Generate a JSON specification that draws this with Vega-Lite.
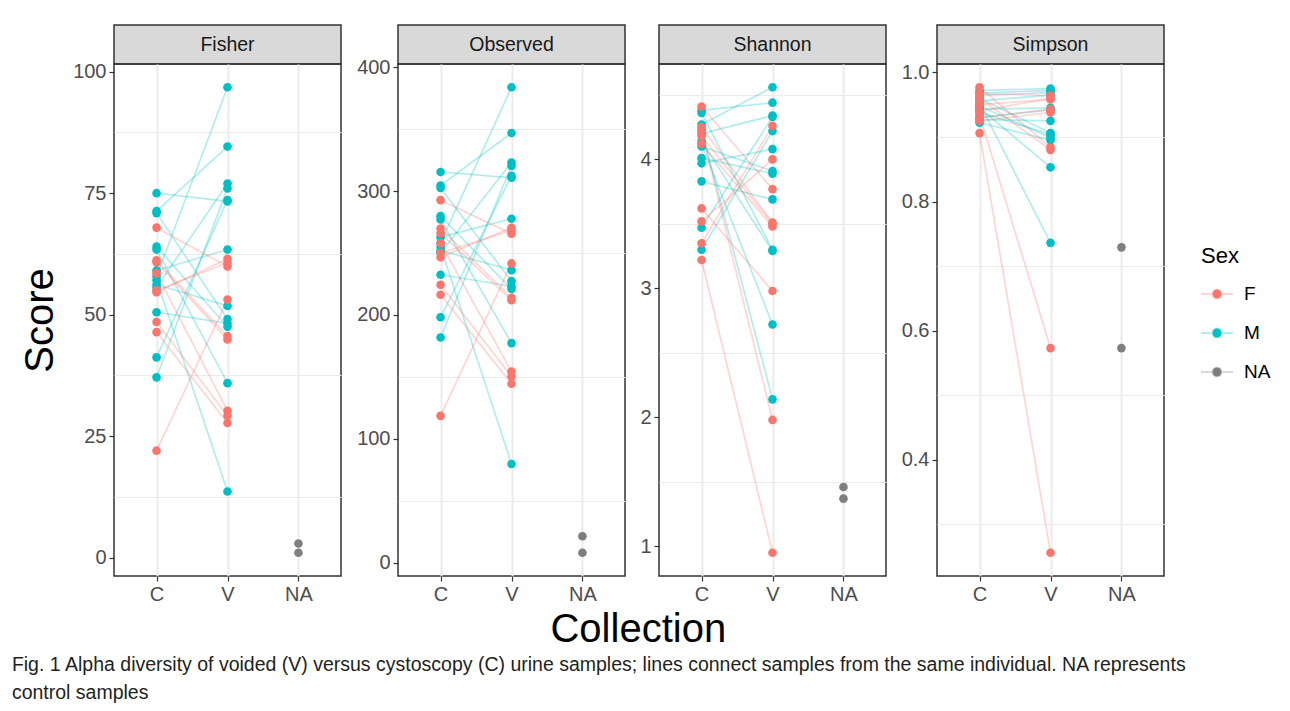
{
  "$schema": "https://vega.github.io/schema/vega-lite/v6.json",
  "background": "white",
  "padding": {"left": 11, "top": 24, "right": 5, "bottom": 8},
  "config": {
    "font": "Liberation Sans",
    "view": {"stroke": "#333333", "strokeWidth": 1.5},
    "axis": {
      "labelFont": "Liberation Sans", "labelFontSize": 20, "labelColor": "#4D4D4D",
      "tickColor": "#333333", "tickSize": 5, "tickWidth": 1.2, "labelPadding": 3,
      "domain": false, "gridColor": "#EBEBEB", "gridWidth": 2
    },
    "title": {"font": "Liberation Sans", "color": "#000000"}
  },
  "datasets": {
    "d": [
      {"metric":"Fisher","id":"M1","collection":"C","sex":"M","value":75.0},{"metric":"Fisher","id":"M1","collection":"V","sex":"M","value":73.3},
      {"metric":"Fisher","id":"M2","collection":"C","sex":"M","value":71.3},{"metric":"Fisher","id":"M2","collection":"V","sex":"M","value":84.6},
      {"metric":"Fisher","id":"M3","collection":"C","sex":"M","value":70.9},{"metric":"Fisher","id":"M3","collection":"V","sex":"M","value":49.1},
      {"metric":"Fisher","id":"M4","collection":"C","sex":"M","value":64.0},{"metric":"Fisher","id":"M4","collection":"V","sex":"M","value":47.5},
      {"metric":"Fisher","id":"M5","collection":"C","sex":"M","value":63.4},{"metric":"Fisher","id":"M5","collection":"V","sex":"M","value":35.9},
      {"metric":"Fisher","id":"M6","collection":"C","sex":"M","value":59.1},{"metric":"Fisher","id":"M6","collection":"V","sex":"M","value":63.4},
      {"metric":"Fisher","id":"M7","collection":"C","sex":"M","value":57.9},{"metric":"Fisher","id":"M7","collection":"V","sex":"M","value":96.8},
      {"metric":"Fisher","id":"M8","collection":"C","sex":"M","value":57.1},{"metric":"Fisher","id":"M8","collection":"V","sex":"M","value":13.6},
      {"metric":"Fisher","id":"M9","collection":"C","sex":"M","value":56.2},{"metric":"Fisher","id":"M9","collection":"V","sex":"M","value":51.8},
      {"metric":"Fisher","id":"M10","collection":"C","sex":"M","value":55.6},{"metric":"Fisher","id":"M10","collection":"V","sex":"M","value":77.0},
      {"metric":"Fisher","id":"M11","collection":"C","sex":"M","value":50.5},{"metric":"Fisher","id":"M11","collection":"V","sex":"M","value":48.2},
      {"metric":"Fisher","id":"M12","collection":"C","sex":"M","value":41.2},{"metric":"Fisher","id":"M12","collection":"V","sex":"M","value":73.6},
      {"metric":"Fisher","id":"M13","collection":"C","sex":"M","value":37.1},{"metric":"Fisher","id":"M13","collection":"V","sex":"M","value":76.0},
      {"metric":"Fisher","id":"F1","collection":"C","sex":"F","value":67.9},{"metric":"Fisher","id":"F1","collection":"V","sex":"F","value":59.9},
      {"metric":"Fisher","id":"F2","collection":"C","sex":"F","value":61.2},{"metric":"Fisher","id":"F2","collection":"V","sex":"F","value":45.6},
      {"metric":"Fisher","id":"F3","collection":"C","sex":"F","value":60.8},{"metric":"Fisher","id":"F3","collection":"V","sex":"F","value":44.9},
      {"metric":"Fisher","id":"F4","collection":"C","sex":"F","value":58.5},{"metric":"Fisher","id":"F4","collection":"V","sex":"F","value":30.2},
      {"metric":"Fisher","id":"F5","collection":"C","sex":"F","value":55.0},{"metric":"Fisher","id":"F5","collection":"V","sex":"F","value":60.7},
      {"metric":"Fisher","id":"F6","collection":"C","sex":"F","value":54.6},{"metric":"Fisher","id":"F6","collection":"V","sex":"F","value":61.5},
      {"metric":"Fisher","id":"F7","collection":"C","sex":"F","value":48.5},{"metric":"Fisher","id":"F7","collection":"V","sex":"F","value":29.2},
      {"metric":"Fisher","id":"F8","collection":"C","sex":"F","value":46.4},{"metric":"Fisher","id":"F8","collection":"V","sex":"F","value":27.7},
      {"metric":"Fisher","id":"F9","collection":"C","sex":"F","value":22.0},{"metric":"Fisher","id":"F9","collection":"V","sex":"F","value":53.1},
      {"metric":"Fisher","id":"ctrl1","collection":"NA","sex":"NA","value":2.9},
      {"metric":"Fisher","id":"ctrl2","collection":"NA","sex":"NA","value":1.0},

      {"metric":"Observed","id":"M1","collection":"C","sex":"M","value":315.4},{"metric":"Observed","id":"M1","collection":"V","sex":"M","value":310.8},
      {"metric":"Observed","id":"M2","collection":"C","sex":"M","value":304.5},{"metric":"Observed","id":"M2","collection":"V","sex":"M","value":346.9},
      {"metric":"Observed","id":"M3","collection":"C","sex":"M","value":302.5},{"metric":"Observed","id":"M3","collection":"V","sex":"M","value":227.3},
      {"metric":"Observed","id":"M4","collection":"C","sex":"M","value":279.8},{"metric":"Observed","id":"M4","collection":"V","sex":"M","value":221.0},
      {"metric":"Observed","id":"M5","collection":"C","sex":"M","value":277.1},{"metric":"Observed","id":"M5","collection":"V","sex":"M","value":177.3},
      {"metric":"Observed","id":"M6","collection":"C","sex":"M","value":262.8},{"metric":"Observed","id":"M6","collection":"V","sex":"M","value":277.7},
      {"metric":"Observed","id":"M7","collection":"C","sex":"M","value":258.2},{"metric":"Observed","id":"M7","collection":"V","sex":"M","value":383.8},
      {"metric":"Observed","id":"M8","collection":"C","sex":"M","value":254.9},{"metric":"Observed","id":"M8","collection":"V","sex":"M","value":79.7},
      {"metric":"Observed","id":"M9","collection":"C","sex":"M","value":252.0},{"metric":"Observed","id":"M9","collection":"V","sex":"M","value":236.2},
      {"metric":"Observed","id":"M10","collection":"C","sex":"M","value":250.0},{"metric":"Observed","id":"M10","collection":"V","sex":"M","value":323.1},
      {"metric":"Observed","id":"M11","collection":"C","sex":"M","value":232.5},{"metric":"Observed","id":"M11","collection":"V","sex":"M","value":223.2},
      {"metric":"Observed","id":"M12","collection":"C","sex":"M","value":198.2},{"metric":"Observed","id":"M12","collection":"V","sex":"M","value":312.3},
      {"metric":"Observed","id":"M13","collection":"C","sex":"M","value":181.8},{"metric":"Observed","id":"M13","collection":"V","sex":"M","value":320.4},
      {"metric":"Observed","id":"F1","collection":"C","sex":"F","value":292.7},{"metric":"Observed","id":"F1","collection":"V","sex":"F","value":265.6},
      {"metric":"Observed","id":"F2","collection":"C","sex":"F","value":269.8},{"metric":"Observed","id":"F2","collection":"V","sex":"F","value":213.8},
      {"metric":"Observed","id":"F3","collection":"C","sex":"F","value":266.0},{"metric":"Observed","id":"F3","collection":"V","sex":"F","value":211.9},
      {"metric":"Observed","id":"F4","collection":"C","sex":"F","value":258.0},{"metric":"Observed","id":"F4","collection":"V","sex":"F","value":154.4},
      {"metric":"Observed","id":"F5","collection":"C","sex":"F","value":250.0},{"metric":"Observed","id":"F5","collection":"V","sex":"F","value":268.3},
      {"metric":"Observed","id":"F6","collection":"C","sex":"F","value":246.6},{"metric":"Observed","id":"F6","collection":"V","sex":"F","value":270.4},
      {"metric":"Observed","id":"F7","collection":"C","sex":"F","value":224.4},{"metric":"Observed","id":"F7","collection":"V","sex":"F","value":150.4},
      {"metric":"Observed","id":"F8","collection":"C","sex":"F","value":216.3},{"metric":"Observed","id":"F8","collection":"V","sex":"F","value":144.5},
      {"metric":"Observed","id":"F9","collection":"C","sex":"F","value":118.6},{"metric":"Observed","id":"F9","collection":"V","sex":"F","value":241.6},
      {"metric":"Observed","id":"ctrl1","collection":"NA","sex":"NA","value":21.4},
      {"metric":"Observed","id":"ctrl2","collection":"NA","sex":"NA","value":8.1},

      {"metric":"Shannon","id":"M1","collection":"C","sex":"M","value":4.38},{"metric":"Shannon","id":"M1","collection":"V","sex":"M","value":4.44},
      {"metric":"Shannon","id":"M2","collection":"C","sex":"M","value":4.36},{"metric":"Shannon","id":"M2","collection":"V","sex":"M","value":3.30},
      {"metric":"Shannon","id":"M3","collection":"C","sex":"M","value":4.27},{"metric":"Shannon","id":"M3","collection":"V","sex":"M","value":4.56},
      {"metric":"Shannon","id":"M4","collection":"C","sex":"M","value":4.23},{"metric":"Shannon","id":"M4","collection":"V","sex":"M","value":2.14},
      {"metric":"Shannon","id":"M5","collection":"C","sex":"M","value":4.20},{"metric":"Shannon","id":"M5","collection":"V","sex":"M","value":4.34},
      {"metric":"Shannon","id":"M6","collection":"C","sex":"M","value":4.14},{"metric":"Shannon","id":"M6","collection":"V","sex":"M","value":3.29},
      {"metric":"Shannon","id":"M7","collection":"C","sex":"M","value":4.12},{"metric":"Shannon","id":"M7","collection":"V","sex":"M","value":2.72},
      {"metric":"Shannon","id":"M8","collection":"C","sex":"M","value":4.10},{"metric":"Shannon","id":"M8","collection":"V","sex":"M","value":3.91},
      {"metric":"Shannon","id":"M9","collection":"C","sex":"M","value":4.01},{"metric":"Shannon","id":"M9","collection":"V","sex":"M","value":3.89},
      {"metric":"Shannon","id":"M10","collection":"C","sex":"M","value":3.97},{"metric":"Shannon","id":"M10","collection":"V","sex":"M","value":4.08},
      {"metric":"Shannon","id":"M11","collection":"C","sex":"M","value":3.83},{"metric":"Shannon","id":"M11","collection":"V","sex":"M","value":3.69},
      {"metric":"Shannon","id":"M12","collection":"C","sex":"M","value":3.47},{"metric":"Shannon","id":"M12","collection":"V","sex":"M","value":4.33},
      {"metric":"Shannon","id":"M13","collection":"C","sex":"M","value":3.30},{"metric":"Shannon","id":"M13","collection":"V","sex":"M","value":4.22},
      {"metric":"Shannon","id":"F1","collection":"C","sex":"F","value":4.41},{"metric":"Shannon","id":"F1","collection":"V","sex":"F","value":3.77},
      {"metric":"Shannon","id":"F2","collection":"C","sex":"F","value":4.25},{"metric":"Shannon","id":"F2","collection":"V","sex":"F","value":3.51},
      {"metric":"Shannon","id":"F3","collection":"C","sex":"F","value":4.22},{"metric":"Shannon","id":"F3","collection":"V","sex":"F","value":1.98},
      {"metric":"Shannon","id":"F4","collection":"C","sex":"F","value":4.18},{"metric":"Shannon","id":"F4","collection":"V","sex":"F","value":3.50},
      {"metric":"Shannon","id":"F5","collection":"C","sex":"F","value":4.12},{"metric":"Shannon","id":"F5","collection":"V","sex":"F","value":3.48},
      {"metric":"Shannon","id":"F6","collection":"C","sex":"F","value":3.62},{"metric":"Shannon","id":"F6","collection":"V","sex":"F","value":2.98},
      {"metric":"Shannon","id":"F7","collection":"C","sex":"F","value":3.52},{"metric":"Shannon","id":"F7","collection":"V","sex":"F","value":4.00},
      {"metric":"Shannon","id":"F8","collection":"C","sex":"F","value":3.35},{"metric":"Shannon","id":"F8","collection":"V","sex":"F","value":4.26},
      {"metric":"Shannon","id":"F9","collection":"C","sex":"F","value":3.22},{"metric":"Shannon","id":"F9","collection":"V","sex":"F","value":0.95},
      {"metric":"Shannon","id":"ctrl1","collection":"NA","sex":"NA","value":1.46},
      {"metric":"Shannon","id":"ctrl2","collection":"NA","sex":"NA","value":1.37},

      {"metric":"Simpson","id":"M1","collection":"C","sex":"M","value":0.972},{"metric":"Simpson","id":"M1","collection":"V","sex":"M","value":0.975},
      {"metric":"Simpson","id":"M2","collection":"C","sex":"M","value":0.968},{"metric":"Simpson","id":"M2","collection":"V","sex":"M","value":0.972},
      {"metric":"Simpson","id":"M3","collection":"C","sex":"M","value":0.964},{"metric":"Simpson","id":"M3","collection":"V","sex":"M","value":0.969},
      {"metric":"Simpson","id":"M4","collection":"C","sex":"M","value":0.960},{"metric":"Simpson","id":"M4","collection":"V","sex":"M","value":0.906},
      {"metric":"Simpson","id":"M5","collection":"C","sex":"M","value":0.956},{"metric":"Simpson","id":"M5","collection":"V","sex":"M","value":0.965},
      {"metric":"Simpson","id":"M6","collection":"C","sex":"M","value":0.952},{"metric":"Simpson","id":"M6","collection":"V","sex":"M","value":0.736},
      {"metric":"Simpson","id":"M7","collection":"C","sex":"M","value":0.948},{"metric":"Simpson","id":"M7","collection":"V","sex":"M","value":0.899},
      {"metric":"Simpson","id":"M8","collection":"C","sex":"M","value":0.945},{"metric":"Simpson","id":"M8","collection":"V","sex":"M","value":0.853},
      {"metric":"Simpson","id":"M9","collection":"C","sex":"M","value":0.943},{"metric":"Simpson","id":"M9","collection":"V","sex":"M","value":0.945},
      {"metric":"Simpson","id":"M10","collection":"C","sex":"M","value":0.938},{"metric":"Simpson","id":"M10","collection":"V","sex":"M","value":0.904},
      {"metric":"Simpson","id":"M11","collection":"C","sex":"M","value":0.930},{"metric":"Simpson","id":"M11","collection":"V","sex":"M","value":0.942},
      {"metric":"Simpson","id":"M12","collection":"C","sex":"M","value":0.927},{"metric":"Simpson","id":"M12","collection":"V","sex":"M","value":0.925},
      {"metric":"Simpson","id":"M13","collection":"C","sex":"M","value":0.922},{"metric":"Simpson","id":"M13","collection":"V","sex":"M","value":0.895},
      {"metric":"Simpson","id":"F1","collection":"C","sex":"F","value":0.977},{"metric":"Simpson","id":"F1","collection":"V","sex":"F","value":0.884},
      {"metric":"Simpson","id":"F2","collection":"C","sex":"F","value":0.967},{"metric":"Simpson","id":"F2","collection":"V","sex":"F","value":0.964},
      {"metric":"Simpson","id":"F3","collection":"C","sex":"F","value":0.960},{"metric":"Simpson","id":"F3","collection":"V","sex":"F","value":0.880},
      {"metric":"Simpson","id":"F4","collection":"C","sex":"F","value":0.950},{"metric":"Simpson","id":"F4","collection":"V","sex":"F","value":0.958},
      {"metric":"Simpson","id":"F5","collection":"C","sex":"F","value":0.940},{"metric":"Simpson","id":"F5","collection":"V","sex":"F","value":0.960},
      {"metric":"Simpson","id":"F6","collection":"C","sex":"F","value":0.934},{"metric":"Simpson","id":"F6","collection":"V","sex":"F","value":0.573},
      {"metric":"Simpson","id":"F7","collection":"C","sex":"F","value":0.930},{"metric":"Simpson","id":"F7","collection":"V","sex":"F","value":0.943},
      {"metric":"Simpson","id":"F8","collection":"C","sex":"F","value":0.925},{"metric":"Simpson","id":"F8","collection":"V","sex":"F","value":0.938},
      {"metric":"Simpson","id":"F9","collection":"C","sex":"F","value":0.906},{"metric":"Simpson","id":"F9","collection":"V","sex":"F","value":0.256},
      {"metric":"Simpson","id":"ctrl1","collection":"NA","sex":"NA","value":0.729},
      {"metric":"Simpson","id":"ctrl2","collection":"NA","sex":"NA","value":0.573}
    ]
  },
  "title": {
    "text": ["Fig. 1 Alpha diversity of voided (V) versus cystoscopy (C) urine samples; lines connect samples from the same individual. NA represents", "control samples"],
    "orient": "bottom", "anchor": "start", "frame": "bounds", "fontSize": 19.5, "fontWeight": "normal", "lineHeight": 28, "color": "#231F20", "offset": 6, "dx": -8
  },
  "resolve": {"scale": {"color": "shared"}, "legend": {"color": "shared"}},
  "vconcat": [
    {
      "title": {"text": "Collection", "orient": "bottom", "anchor": "middle", "fontSize": 40, "fontWeight": "normal", "offset": 5, "dx": 46, "color": "#000000"},
      "spacing": 13,
      "resolve": {"scale": {"color": "shared"}, "legend": {"color": "shared"}},
      "hconcat": [
        {
          "spacing": 0, "bounds": "flush",
          "vconcat": [
            {"width": 227, "height": 39, "data": {"values": [{"label": "Fisher"}]},
             "view": {"fill": "#D9D9D9", "stroke": "#333333", "strokeWidth": 1.5},
             "mark": {"type": "text", "fontSize": 19.5, "color": "#1A1A1A", "font": "Liberation Sans"},
             "encoding": {"text": {"field": "label"}}},
            {"width": 227, "height": 512, "data": {"name": "d"},
             "transform": [{"filter": "datum.metric === 'Fisher'"}],
             "resolve": {"axis": {"y": "independent"}},
             "layer": [
               {"mark": {"type": "line", "opacity": 0.3, "strokeWidth": 1.7},
                "encoding": {
                  "x": {"field": "collection", "type": "nominal", "scale": {"type": "point", "domain": ["C", "V", "NA"], "padding": 0.6}, "axis": {"title": null, "labelAngle": 0, "grid": true}},
                  "y": {"field": "value", "type": "quantitative", "scale": {"domain": [-3.79, 101.59], "nice": false, "zero": false}, "axis": {"orient": "left", "values": [12.5, 37.5, 62.5, 87.5], "labels": false, "ticks": false, "title": null, "gridWidth": 1, "gridColor": "#EBEBEB"}},
                  "color": {"field": "sex", "type": "nominal", "title": "Sex", "scale": {"domain": ["F", "M", "NA"], "range": ["#F8766D", "#00BFC4", "#7F7F7F"]},
                    "legend": {"orient": "none", "legendX": 1087, "legendY": 221, "titleFontSize": 22, "titleFontWeight": "normal", "titleColor": "#000000", "titlePadding": 10, "labelFontSize": 19, "labelColor": "#000000", "labelOffset": 11, "symbolSize": 900, "symbolOpacity": 1, "symbolStrokeWidth": 2, "rowPadding": 13, "symbolType": "M-1.07,0H1.07 M-0.3,0A0.3,0.3 0 1,0 0.3,0A0.3,0.3 0 1,0 -0.3,0Z", "encode": {"symbols": {"update": {"stroke": {"scale": "color", "field": "value"}, "strokeOpacity": {"value": 0.3}}}}}},
                  "detail": {"field": "id"}
                }},
               {"mark": {"type": "point", "filled": true, "size": 75, "opacity": 1},
                "encoding": {
                  "x": {"field": "collection", "type": "nominal", "scale": {"type": "point", "domain": ["C", "V", "NA"], "padding": 0.6}, "axis": {"title": null, "labelAngle": 0, "grid": true}},
                  "y": {"field": "value", "type": "quantitative", "scale": {"domain": [-3.79, 101.59], "nice": false, "zero": false}, "axis": {"orient": "left", "values": [0, 25, 50, 75, 100], "title": "Score", "titleFontSize": 40, "titleFontWeight": "normal", "titleColor": "#000000", "titlePadding": 12}},
                  "color": {"field": "sex", "type": "nominal", "title": "Sex", "scale": {"domain": ["F", "M", "NA"], "range": ["#F8766D", "#00BFC4", "#7F7F7F"]},
                    "legend": {"orient": "none", "legendX": 1087, "legendY": 221, "titleFontSize": 22, "titleFontWeight": "normal", "titleColor": "#000000", "titlePadding": 10, "labelFontSize": 19, "labelColor": "#000000", "labelOffset": 11, "symbolSize": 900, "symbolOpacity": 1, "symbolStrokeWidth": 2, "rowPadding": 13, "symbolType": "M-1.07,0H1.07 M-0.3,0A0.3,0.3 0 1,0 0.3,0A0.3,0.3 0 1,0 -0.3,0Z", "encode": {"symbols": {"update": {"stroke": {"scale": "color", "field": "value"}, "strokeOpacity": {"value": 0.3}}}}}}
                }}
             ]}
          ]
        },
        {
          "spacing": 0, "bounds": "flush",
          "vconcat": [
            {"width": 227, "height": 39, "data": {"values": [{"label": "Observed"}]},
             "view": {"fill": "#D9D9D9", "stroke": "#333333", "strokeWidth": 1.5},
             "mark": {"type": "text", "fontSize": 19.5, "color": "#1A1A1A", "font": "Liberation Sans"},
             "encoding": {"text": {"field": "label"}}},
            {"width": 227, "height": 512, "data": {"name": "d"},
             "transform": [{"filter": "datum.metric === 'Observed'"}],
             "resolve": {"axis": {"y": "independent"}},
             "layer": [
               {"mark": {"type": "line", "opacity": 0.3, "strokeWidth": 1.7},
                "encoding": {
                  "x": {"field": "collection", "type": "nominal", "scale": {"type": "point", "domain": ["C", "V", "NA"], "padding": 0.6}, "axis": {"title": null, "labelAngle": 0, "grid": true}},
                  "y": {"field": "value", "type": "quantitative", "scale": {"domain": [-10.7, 402.6], "nice": false, "zero": false}, "axis": {"orient": "left", "values": [50, 150, 250, 350], "labels": false, "ticks": false, "title": null, "gridWidth": 1, "gridColor": "#EBEBEB"}},
                  "color": {"field": "sex", "type": "nominal", "title": "Sex", "scale": {"domain": ["F", "M", "NA"], "range": ["#F8766D", "#00BFC4", "#7F7F7F"]},
                    "legend": {"orient": "none", "legendX": 1087, "legendY": 221, "titleFontSize": 22, "titleFontWeight": "normal", "titleColor": "#000000", "titlePadding": 10, "labelFontSize": 19, "labelColor": "#000000", "labelOffset": 11, "symbolSize": 900, "symbolOpacity": 1, "symbolStrokeWidth": 2, "rowPadding": 13, "symbolType": "M-1.07,0H1.07 M-0.3,0A0.3,0.3 0 1,0 0.3,0A0.3,0.3 0 1,0 -0.3,0Z", "encode": {"symbols": {"update": {"stroke": {"scale": "color", "field": "value"}, "strokeOpacity": {"value": 0.3}}}}}},
                  "detail": {"field": "id"}
                }},
               {"mark": {"type": "point", "filled": true, "size": 75, "opacity": 1},
                "encoding": {
                  "x": {"field": "collection", "type": "nominal", "scale": {"type": "point", "domain": ["C", "V", "NA"], "padding": 0.6}, "axis": {"title": null, "labelAngle": 0, "grid": true}},
                  "y": {"field": "value", "type": "quantitative", "scale": {"domain": [-10.7, 402.6], "nice": false, "zero": false}, "axis": {"orient": "left", "values": [0, 100, 200, 300, 400], "title": null}},
                  "color": {"field": "sex", "type": "nominal", "title": "Sex", "scale": {"domain": ["F", "M", "NA"], "range": ["#F8766D", "#00BFC4", "#7F7F7F"]},
                    "legend": {"orient": "none", "legendX": 1087, "legendY": 221, "titleFontSize": 22, "titleFontWeight": "normal", "titleColor": "#000000", "titlePadding": 10, "labelFontSize": 19, "labelColor": "#000000", "labelOffset": 11, "symbolSize": 900, "symbolOpacity": 1, "symbolStrokeWidth": 2, "rowPadding": 13, "symbolType": "M-1.07,0H1.07 M-0.3,0A0.3,0.3 0 1,0 0.3,0A0.3,0.3 0 1,0 -0.3,0Z", "encode": {"symbols": {"update": {"stroke": {"scale": "color", "field": "value"}, "strokeOpacity": {"value": 0.3}}}}}}
                }}
             ]}
          ]
        },
        {
          "spacing": 0, "bounds": "flush",
          "vconcat": [
            {"width": 227, "height": 39, "data": {"values": [{"label": "Shannon"}]},
             "view": {"fill": "#D9D9D9", "stroke": "#333333", "strokeWidth": 1.5},
             "mark": {"type": "text", "fontSize": 19.5, "color": "#1A1A1A", "font": "Liberation Sans"},
             "encoding": {"text": {"field": "label"}}},
            {"width": 227, "height": 512, "data": {"name": "d"},
             "transform": [{"filter": "datum.metric === 'Shannon'"}],
             "resolve": {"axis": {"y": "independent"}},
             "layer": [
               {"mark": {"type": "line", "opacity": 0.3, "strokeWidth": 1.7},
                "encoding": {
                  "x": {"field": "collection", "type": "nominal", "scale": {"type": "point", "domain": ["C", "V", "NA"], "padding": 0.6}, "axis": {"title": null, "labelAngle": 0, "grid": true}},
                  "y": {"field": "value", "type": "quantitative", "scale": {"domain": [0.77, 4.74], "nice": false, "zero": false}, "axis": {"orient": "left", "values": [1.5, 2.5, 3.5, 4.5], "labels": false, "ticks": false, "title": null, "gridWidth": 1, "gridColor": "#EBEBEB"}},
                  "color": {"field": "sex", "type": "nominal", "title": "Sex", "scale": {"domain": ["F", "M", "NA"], "range": ["#F8766D", "#00BFC4", "#7F7F7F"]},
                    "legend": {"orient": "none", "legendX": 1087, "legendY": 221, "titleFontSize": 22, "titleFontWeight": "normal", "titleColor": "#000000", "titlePadding": 10, "labelFontSize": 19, "labelColor": "#000000", "labelOffset": 11, "symbolSize": 900, "symbolOpacity": 1, "symbolStrokeWidth": 2, "rowPadding": 13, "symbolType": "M-1.07,0H1.07 M-0.3,0A0.3,0.3 0 1,0 0.3,0A0.3,0.3 0 1,0 -0.3,0Z", "encode": {"symbols": {"update": {"stroke": {"scale": "color", "field": "value"}, "strokeOpacity": {"value": 0.3}}}}}},
                  "detail": {"field": "id"}
                }},
               {"mark": {"type": "point", "filled": true, "size": 75, "opacity": 1},
                "encoding": {
                  "x": {"field": "collection", "type": "nominal", "scale": {"type": "point", "domain": ["C", "V", "NA"], "padding": 0.6}, "axis": {"title": null, "labelAngle": 0, "grid": true}},
                  "y": {"field": "value", "type": "quantitative", "scale": {"domain": [0.77, 4.74], "nice": false, "zero": false}, "axis": {"orient": "left", "values": [1, 2, 3, 4], "title": null}},
                  "color": {"field": "sex", "type": "nominal", "title": "Sex", "scale": {"domain": ["F", "M", "NA"], "range": ["#F8766D", "#00BFC4", "#7F7F7F"]},
                    "legend": {"orient": "none", "legendX": 1087, "legendY": 221, "titleFontSize": 22, "titleFontWeight": "normal", "titleColor": "#000000", "titlePadding": 10, "labelFontSize": 19, "labelColor": "#000000", "labelOffset": 11, "symbolSize": 900, "symbolOpacity": 1, "symbolStrokeWidth": 2, "rowPadding": 13, "symbolType": "M-1.07,0H1.07 M-0.3,0A0.3,0.3 0 1,0 0.3,0A0.3,0.3 0 1,0 -0.3,0Z", "encode": {"symbols": {"update": {"stroke": {"scale": "color", "field": "value"}, "strokeOpacity": {"value": 0.3}}}}}}
                }}
             ]}
          ]
        },
        {
          "spacing": 0, "bounds": "flush",
          "vconcat": [
            {"width": 227, "height": 39, "data": {"values": [{"label": "Simpson"}]},
             "view": {"fill": "#D9D9D9", "stroke": "#333333", "strokeWidth": 1.5},
             "mark": {"type": "text", "fontSize": 19.5, "color": "#1A1A1A", "font": "Liberation Sans"},
             "encoding": {"text": {"field": "label"}}},
            {"width": 227, "height": 512, "data": {"name": "d"},
             "transform": [{"filter": "datum.metric === 'Simpson'"}],
             "resolve": {"axis": {"y": "independent"}},
             "layer": [
               {"mark": {"type": "line", "opacity": 0.3, "strokeWidth": 1.7},
                "encoding": {
                  "x": {"field": "collection", "type": "nominal", "scale": {"type": "point", "domain": ["C", "V", "NA"], "padding": 0.6}, "axis": {"title": null, "labelAngle": 0, "grid": true}},
                  "y": {"field": "value", "type": "quantitative", "scale": {"domain": [0.22, 1.013], "nice": false, "zero": false}, "axis": {"orient": "left", "values": [0.3, 0.5, 0.7, 0.9], "labels": false, "ticks": false, "title": null, "gridWidth": 1, "gridColor": "#EBEBEB"}},
                  "color": {"field": "sex", "type": "nominal", "title": "Sex", "scale": {"domain": ["F", "M", "NA"], "range": ["#F8766D", "#00BFC4", "#7F7F7F"]},
                    "legend": {"orient": "none", "legendX": 1087, "legendY": 221, "titleFontSize": 22, "titleFontWeight": "normal", "titleColor": "#000000", "titlePadding": 10, "labelFontSize": 19, "labelColor": "#000000", "labelOffset": 11, "symbolSize": 900, "symbolOpacity": 1, "symbolStrokeWidth": 2, "rowPadding": 13, "symbolType": "M-1.07,0H1.07 M-0.3,0A0.3,0.3 0 1,0 0.3,0A0.3,0.3 0 1,0 -0.3,0Z", "encode": {"symbols": {"update": {"stroke": {"scale": "color", "field": "value"}, "strokeOpacity": {"value": 0.3}}}}}},
                  "detail": {"field": "id"}
                }},
               {"mark": {"type": "point", "filled": true, "size": 75, "opacity": 1},
                "encoding": {
                  "x": {"field": "collection", "type": "nominal", "scale": {"type": "point", "domain": ["C", "V", "NA"], "padding": 0.6}, "axis": {"title": null, "labelAngle": 0, "grid": true}},
                  "y": {"field": "value", "type": "quantitative", "scale": {"domain": [0.22, 1.013], "nice": false, "zero": false}, "axis": {"orient": "left", "values": [0.4, 0.6, 0.8, 1.0], "format": ".1f", "title": null}},
                  "color": {"field": "sex", "type": "nominal", "title": "Sex", "scale": {"domain": ["F", "M", "NA"], "range": ["#F8766D", "#00BFC4", "#7F7F7F"]},
                    "legend": {"orient": "none", "legendX": 1087, "legendY": 221, "titleFontSize": 22, "titleFontWeight": "normal", "titleColor": "#000000", "titlePadding": 10, "labelFontSize": 19, "labelColor": "#000000", "labelOffset": 11, "symbolSize": 900, "symbolOpacity": 1, "symbolStrokeWidth": 2, "rowPadding": 13, "symbolType": "M-1.07,0H1.07 M-0.3,0A0.3,0.3 0 1,0 0.3,0A0.3,0.3 0 1,0 -0.3,0Z", "encode": {"symbols": {"update": {"stroke": {"scale": "color", "field": "value"}, "strokeOpacity": {"value": 0.3}}}}}}
                }}
             ]}
          ]
        }
      ]
    }
  ]
}
